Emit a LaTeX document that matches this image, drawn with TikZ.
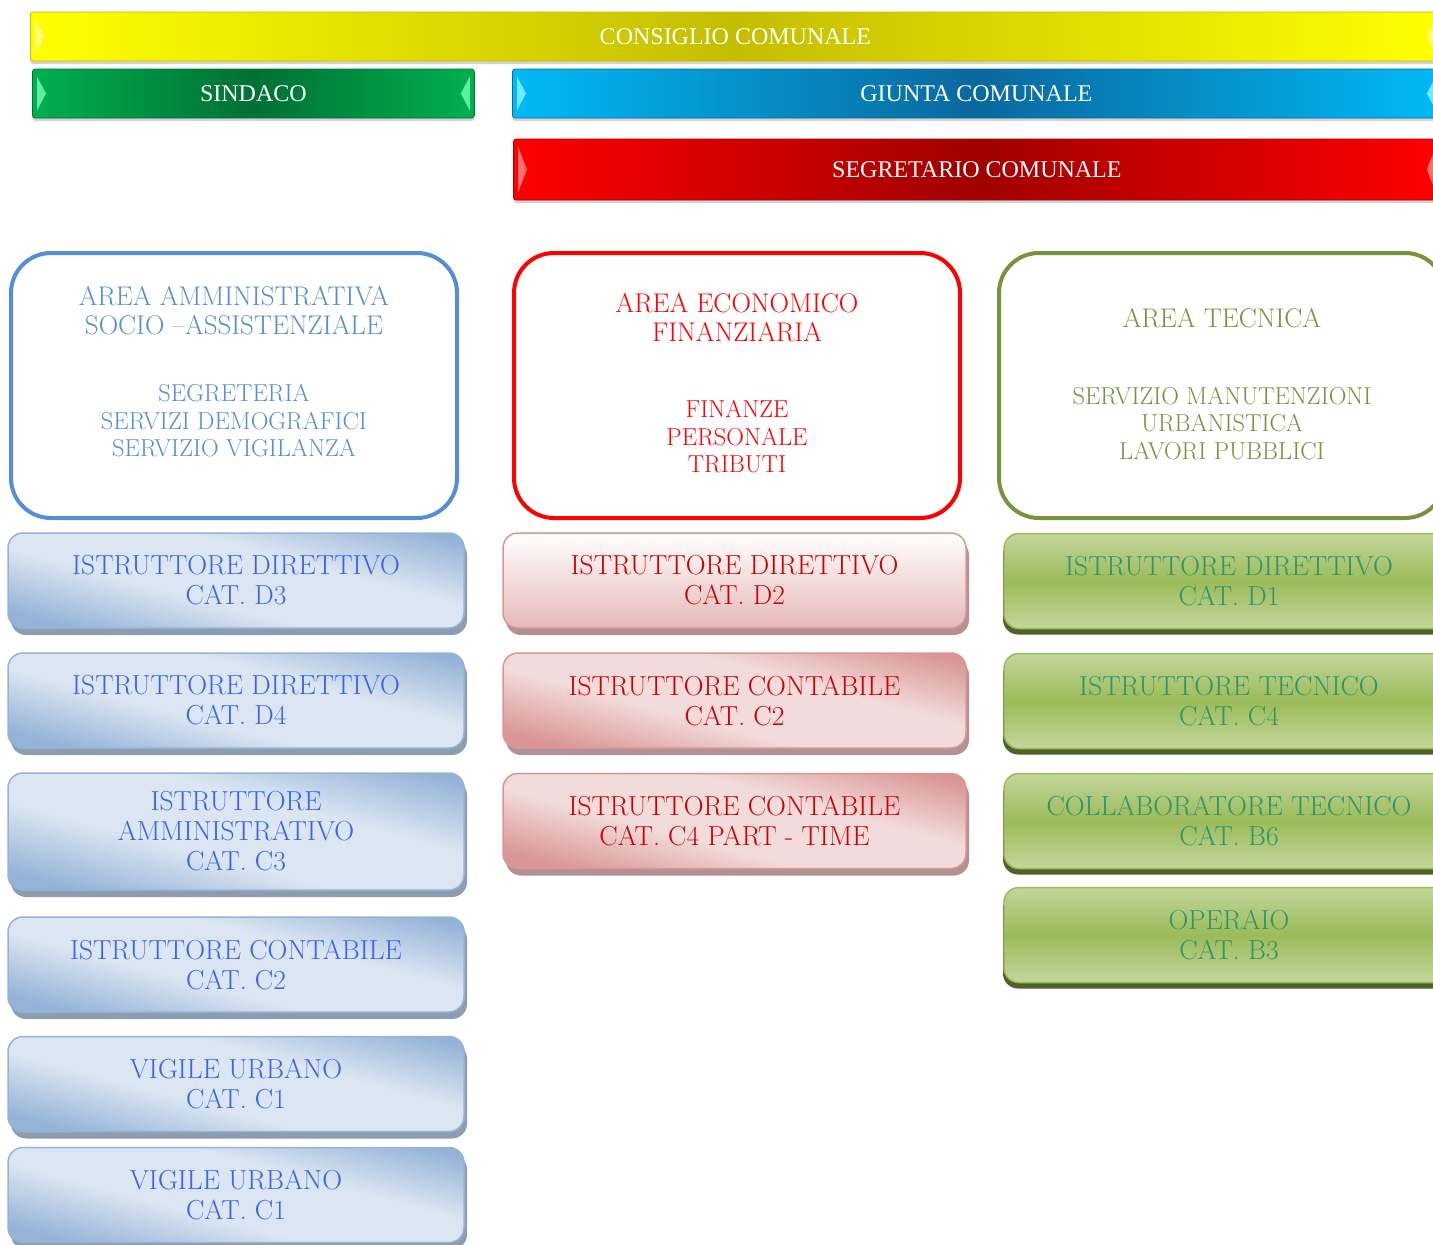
\documentclass[tikz,border=0pt]{standalone}
\usepackage{fontspec}
\newfontfamily\barfont{Liberation Serif}
\usetikzlibrary{shadows, calc}

\definecolor{ConsYellow}{RGB}{255,255,0}
\definecolor{ConsYellowDark}{RGB}{196,190,0}
\definecolor{ConsYellowHi}{RGB}{255,255,120}
\definecolor{SindGreen}{RGB}{0,176,80}
\definecolor{SindGreenDark}{RGB}{0,112,52}
\definecolor{SindGreenHi}{RGB}{90,240,160}
\definecolor{GiuntaBlue}{RGB}{0,186,246}
\definecolor{GiuntaBlueDark}{RGB}{10,104,158}
\definecolor{GiuntaBlueHi}{RGB}{110,235,255}
\definecolor{SegrRed}{RGB}{255,0,0}
\definecolor{SegrRedDark}{RGB}{160,0,0}
\definecolor{SegrRedHi}{RGB}{255,110,110}

\definecolor{AmmBlue}{RGB}{85,142,213}
\definecolor{AmmText}{RGB}{55,100,235}
\definecolor{AmmLight}{RGB}{220,230,242}
\definecolor{AmmDark}{RGB}{149,179,215}
\definecolor{AmmShadow}{RGB}{142,156,175}
\definecolor{EcoRed}{RGB}{255,0,0}
\definecolor{EcoText}{RGB}{204,0,0}
\definecolor{EcoLight}{RGB}{242,220,219}
\definecolor{EcoDark}{RGB}{217,150,148}
\definecolor{EcoPink}{RGB}{230,185,184}
\definecolor{EcoShadow}{RGB}{178,145,148}
\definecolor{TecGreen}{RGB}{119,147,60}
\definecolor{TecText}{RGB}{46,150,105}
\definecolor{TecLight}{RGB}{195,214,155}
\definecolor{TecMid}{RGB}{155,187,89}
\definecolor{TecShadow}{RGB}{79,98,40}

\pgfdeclarehorizontalshading{ammgloss}{100bp}{color(0bp)=(AmmDark); color(24bp)=(AmmDark); color(42bp)=(AmmLight); color(60bp)=(AmmLight); color(78bp)=(AmmDark); color(100bp)=(AmmDark)}
\pgfdeclarehorizontalshading{ecogloss}{100bp}{color(0bp)=(EcoDark); color(24bp)=(EcoDark); color(42bp)=(EcoLight); color(60bp)=(EcoLight); color(78bp)=(EcoDark); color(100bp)=(EcoDark)}

\tikzset{
  bar/.style={rectangle, rounded corners=3pt, minimum height=49pt, anchor=west, line width=0.8pt,
    text=white, font=\barfont\fontsize{24}{27}\selectfont,
    drop shadow={shadow xshift=0pt, shadow yshift=-3pt, opacity=.35}},
  areabox/.style={rectangle, rounded corners=40pt, line width=4pt, fill=white,
    minimum width=446pt, minimum height=265pt},
  areatitle/.style={align=center, font=\fontsize{27}{29}\selectfont},
  areasub/.style={align=center, font=\fontsize{24.5}{27.5}\selectfont},
  jobbox/.style={rectangle, rounded corners=15pt, minimum height=95pt, line width=1.5pt,
    align=center, font=\fontsize{27.5}{30}\selectfont},
  ammjob/.style={jobbox, minimum width=456pt, shade, shading=ammgloss, shading angle=75,
    draw=AmmDark, text=AmmText,
    general shadow={fill=AmmShadow, shadow xshift=3pt, shadow yshift=-7pt}},
  ecojob/.style={jobbox, minimum width=463pt, shade, shading=ecogloss, shading angle=75,
    draw=EcoDark, text=EcoText,
    general shadow={fill=EcoShadow, shadow xshift=3pt, shadow yshift=-7pt}},
  tecjob/.style={jobbox, minimum width=450pt, top color=TecLight, bottom color=TecLight,
    middle color=TecMid, draw=TecMid, text=TecText,
    general shadow={fill=TecShadow, shadow xshift=-1pt, shadow yshift=-6pt}}
}

\begin{document}
\begin{tikzpicture}[x=1pt, y=-1pt]
\clip (0,0) rectangle (1433,1245);

\node[bar, minimum width=1410pt, left color=ConsYellow, right color=ConsYellow, middle color=ConsYellowDark,
  draw=ConsYellowDark] (cons) at (30,36.5) {CONSIGLIO COMUNALE};
\node[bar, minimum width=442pt, left color=SindGreen, right color=SindGreen, middle color=SindGreenDark,
  draw=SindGreenDark] (sind) at (32,93.5) {SINDACO};
\node[bar, minimum width=928pt, left color=GiuntaBlue, right color=GiuntaBlue, middle color=GiuntaBlueDark,
  draw=GiuntaBlueDark] (giun) at (512,93.5) {GIUNTA COMUNALE};
\node[bar, minimum width=927pt, minimum height=61pt, left color=SegrRed, right color=SegrRed, middle color=SegrRedDark,
  draw=SegrRedDark] (segr) at (513,169.5) {SEGRETARIO COMUNALE};

\foreach \b/\c in {cons/ConsYellowHi, sind/SindGreenHi, giun/GiuntaBlueHi, segr/SegrRedHi} {
  \fill[\c] ($(\b.north west)+(5,8)$) -- ($(\b.west)+(14,0)$) -- ($(\b.south west)+(5,-8)$) -- cycle;
  \fill[\c] ($(\b.north east)+(-5,8)$) -- ($(\b.east)+(-14,0)$) -- ($(\b.south east)+(-5,-8)$) -- cycle;
}

\node[areabox, draw=AmmBlue] (amm) at (234,385.5) {};
\node[areatitle, text=AmmBlue] (ammT) at (234,311) {AREA AMMINISTRATIVA\\SOCIO --ASSISTENZIALE};
\node[areasub, text=AmmBlue] (ammS) at (234,421) {SEGRETERIA\\SERVIZI DEMOGRAFICI\\SERVIZIO VIGILANZA};

\node[areabox, draw=EcoRed] (eco) at (737,385.5) {};
\node[areatitle, text=EcoRed] (ecoT) at (737,318) {AREA ECONOMICO\\FINANZIARIA};
\node[areasub, text=EcoRed] (ecoS) at (737,437) {FINANZE\\PERSONALE\\TRIBUTI};

\node[areabox, draw=TecGreen] (tec) at (1222,385.5) {};
\node[areatitle, text=TecGreen] (tecT) at (1222,318) {AREA TECNICA};
\node[areasub, text=TecGreen] (tecS) at (1222,423.5) {SERVIZIO MANUTENZIONI\\URBANISTICA\\LAVORI PUBBLICI};

\node[ammjob] (amm1) at (236,580.5) {ISTRUTTORE DIRETTIVO\\CAT. D3};
\node[ammjob] (amm2) at (236,700.5) {ISTRUTTORE DIRETTIVO\\CAT. D4};
\node[ammjob, minimum height=117pt] (amm3) at (236,831.5) {ISTRUTTORE\\AMMINISTRATIVO\\CAT. C3};
\node[ammjob] (amm4) at (236,964.5) {ISTRUTTORE CONTABILE\\CAT. C2};
\node[ammjob] (amm5) at (236,1084) {VIGILE URBANO\\CAT. C1};
\node[ammjob] (amm6) at (236,1195) {VIGILE URBANO\\CAT. C1};

\node[ecojob, top color=white, bottom color=EcoPink] (eco1) at (734.5,580.5) {ISTRUTTORE DIRETTIVO\\CAT. D2};
\node[ecojob] (eco2) at (734.5,700.5) {ISTRUTTORE CONTABILE\\CAT. C2};
\node[ecojob] (eco3) at (734.5,821) {ISTRUTTORE CONTABILE\\CAT. C4 PART - TIME};

\node[tecjob] (tec1) at (1229,581) {ISTRUTTORE DIRETTIVO\\CAT. D1};
\node[tecjob] (tec2) at (1229,701) {ISTRUTTORE TECNICO\\CAT. C4};
\node[tecjob] (tec3) at (1229,821) {COLLABORATORE TECNICO\\CAT. B6};
\node[tecjob] (tec4) at (1229,935) {OPERAIO\\CAT. B3};
\end{tikzpicture}
\end{document}
